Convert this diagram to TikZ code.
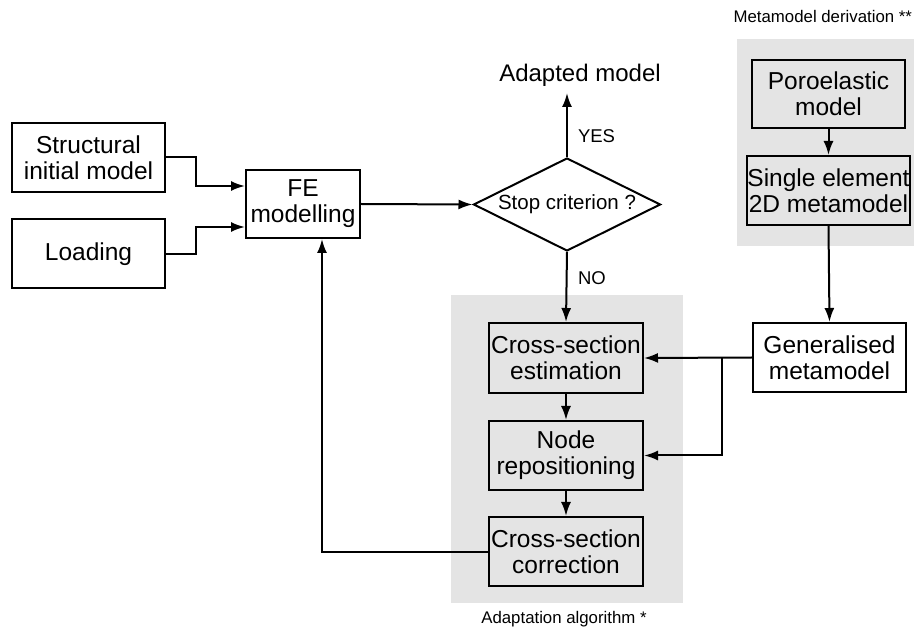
\documentclass[tikz,border=0pt]{standalone}
\usepackage{fontspec}
\setmainfont{Liberation Sans}
\usetikzlibrary{shapes.geometric,arrows.meta,calc}
\definecolor{regiongray}{RGB}{228,228,228}
\begin{document}
\begin{tikzpicture}[x=1pt,y=-1pt,
  line width=2pt,
  box/.style={draw,fill=white,minimum width=153pt,minimum height=69pt,inner sep=0pt,align=center,font=\fontsize{24.5}{26}\selectfont},
  graybox/.style={box,fill=regiongray},
  arr/.style={-{Latex[length=14pt,width=10pt]}},
  lbl/.style={font=\fontsize{18.5}{20}\selectfont,inner sep=0pt},
  small/.style={font=\fontsize{16.8}{18}\selectfont,inner sep=0pt}]
\useasboundingbox (0,0) rectangle (914,628);
% regions
\fill[regiongray] (451,295) rectangle (683,603);
\fill[regiongray] (737,39) rectangle (914,246);
% nodes
\node[box] (struct) at (88.5,157.5) {Structural\\initial model};
\node[box] (load) at (88.5,254) {Loading};
\node[box,minimum width=114pt,minimum height=68pt] (fe) at (303,204) {FE\\modelling};
\node[draw,diamond,fill=white,aspect=2,inner sep=0pt,minimum width=187pt,minimum height=93pt,font=\fontsize{20.5}{22}\selectfont] (stop) at (567,204.5) {Stop criterion ?};
\node[inner sep=0pt,font=\fontsize{24}{26}\selectfont] (adapted) at (580,75) {Adapted model};
\coordinate (adtip) at (567,93);
\node[graybox,minimum width=154pt,minimum height=70pt] (est) at (566,358) {Cross-section\\estimation};
\node[graybox,minimum width=154pt] (rep) at (566,455.5) {Node\\repositioning};
\node[graybox,minimum width=154pt] (corr) at (566,551.5) {Cross-section\\correction};
\node[box] (gen) at (829.5,357.5) {Generalised\\metamodel};
\node[graybox,minimum height=68pt] (poro) at (828.5,94) {Poroelastic\\model};
\node[graybox] (single) at (828.5,190.5) {Single element\\2D metamodel};
\node[lbl,anchor=west] (yes) at (577,136) {YES};
\node[lbl,anchor=west] (no) at (577,278) {NO};
\node[small] (adaptlbl) at (564,619) {Adaptation algorithm *};
\node[small,anchor=east] (metalbl) at (913,16) {Metamodel derivation **};
\coordinate (br) at (722,358);
% connectors
\draw[arr] (struct.east) -- ++(30,0) |- ([yshift=18pt]fe.west);
\draw[arr] (load.east) -- ++(30,0) |- ([yshift=-23pt]fe.west);
\draw[arr] (fe.east) -- (stop.west);
\draw[arr] (stop.north) -- (adtip);
\draw[arr] (stop.south) -- (est.north);
\draw[arr] (est.south) -- (rep.north);
\draw[arr] (rep.south) -- (corr.north);
\draw[arr] (corr.west) -| ([xshift=19pt]fe.south);
\draw[arr] (poro.south) -- (single.north);
\draw[arr] (single.south) -- (gen.north);
\draw[arr] (gen.west) -- (est.east);
\draw[arr] (br) |- (rep.east);
\end{tikzpicture}
\end{document}
